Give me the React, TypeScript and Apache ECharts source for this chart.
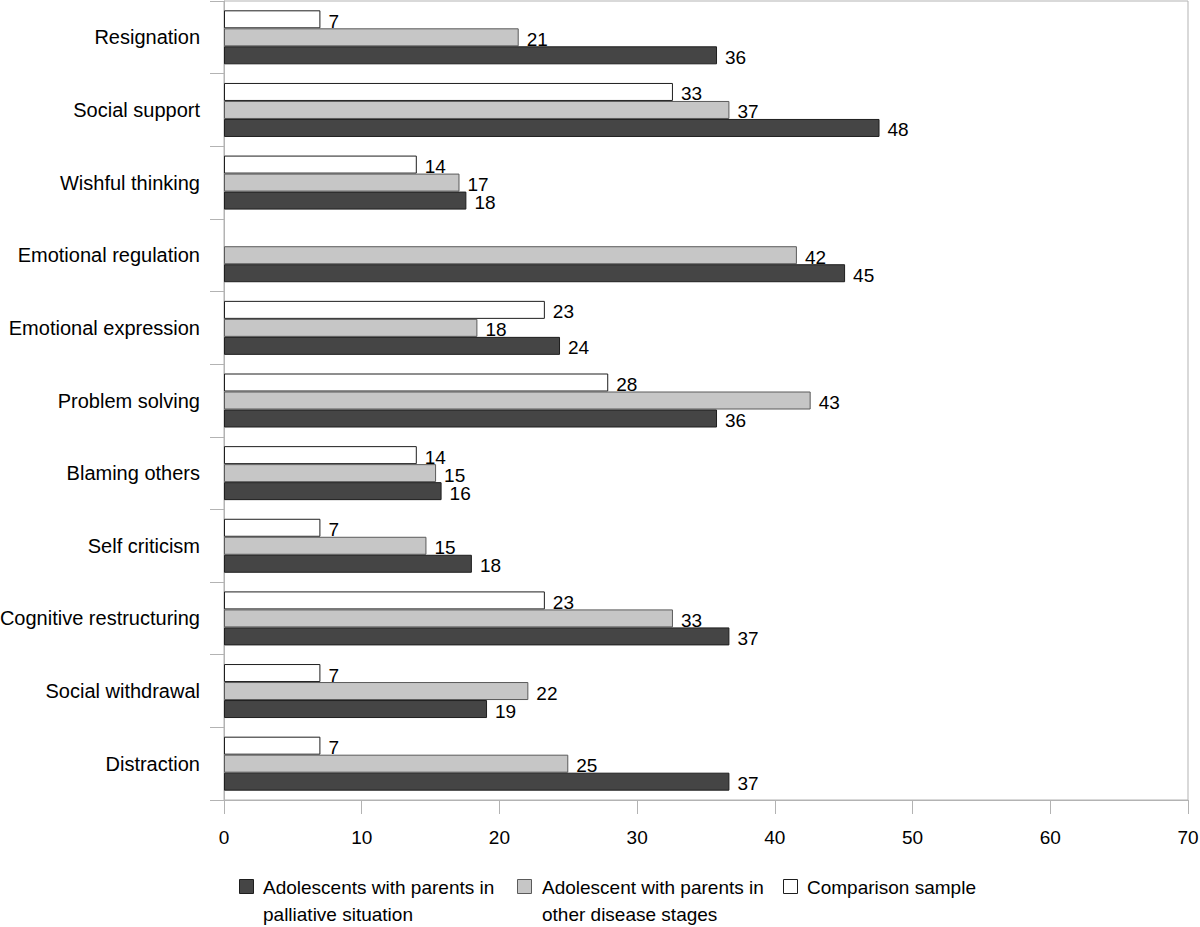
import React, { useEffect, useRef } from "react";
import * as echarts from "echarts";

const categories = [
  "Resignation",
  "Social support",
  "Wishful thinking",
  "Emotional regulation",
  "Emotional expression",
  "Problem solving",
  "Blaming others",
  "Self criticism",
  "Cognitive restructuring",
  "Social withdrawal",
  "Distraction",
];

const palliative = [35.8, 47.6, 17.6, 45.1, 24.4, 35.8, 15.8, 18.0, 36.7, 19.1, 36.7];
const otherStages = [21.4, 36.7, 17.1, 41.6, 18.4, 42.6, 15.4, 14.7, 32.6, 22.1, 25.0];
const comparison: (number | null)[] = [7.0, 32.6, 14.0, null, 23.3, 27.9, 14.0, 7.0, 23.3, 7.0, 7.0];

const xTicks = { min: 0, max: 70, interval: 10 };

const seriesNames = [
  "Adolescents with parents in palliative situation",
  "Adolescent with parents in other disease stages",
  "Comparison sample",
];
const legendLines = [
  ["Adolescents with parents in", "palliative situation"],
  ["Adolescent with parents in", "other disease stages"],
  ["Comparison sample"],
];

const FONT = "'Liberation Sans', Arial, sans-serif";
const fills = ["#454545", "#c6c6c6", "#ffffff"];
const borders = ["#1e1e1e", "#5a5a5a", "#1e1e1e"];

export default function App() {
  const ref = useRef<HTMLDivElement>(null);
  useEffect(() => {
    document.body.style.margin = "0";
    if (!ref.current) return;
    const chart = echarts.init(ref.current, null, { renderer: "svg" });
    const label = {
      show: true,
      position: "right" as const,
      distance: 8,
      offset: [0, 2],
      fontSize: 19,
      lineHeight: 17,
      color: "#000",
      fontFamily: FONT,
      formatter: (p: any) => (p.value == null ? "" : String(Math.round(p.value))),
    };
    const mk = (idx: number, data: (number | null)[]) => ({
      name: seriesNames[idx],
      type: "bar",
      data,
      barWidth: 18,
      barGap: "0%",
      itemStyle: { color: fills[idx], borderColor: borders[idx], borderWidth: 1 },
      label,
    });
    const legendX = [
      { rx: 239, tx: 263 },
      { rx: 517, tx: 542 },
      { rx: 783, tx: 807 },
    ];
    const graphic: any[] = [];
    legendX.forEach((p, i) => {
      graphic.push({
        type: "rect",
        left: p.rx,
        top: 879,
        shape: { width: 14, height: 14 },
        style: { fill: fills[i], stroke: borders[i], lineWidth: 1 },
      });
      graphic.push({
        type: "text",
        x: p.tx,
        y: 874,
        style: {
          text: legendLines[i].join("\n"),
          font: `19px ${FONT}`,
          fill: "#000",
          lineHeight: 27,
          verticalAlign: "top",
        },
      });
    });
    chart.setOption({
      animation: false,
      backgroundColor: "#fff",
      grid: {
        left: 224,
        right: 12,
        top: 1,
        bottom: 127,
        show: true,
        borderColor: "#b3b3b3",
        borderWidth: 1,
        containLabel: false,
        outerBoundsMode: "none",
      },
      xAxis: {
        type: "value",
        min: xTicks.min,
        max: xTicks.max,
        interval: xTicks.interval,
        axisLine: { show: true, lineStyle: { color: "#b3b3b3" } },
        axisTick: { show: true, length: 14, lineStyle: { color: "#b3b3b3" } },
        splitLine: { show: false },
        axisLabel: { fontSize: 19, color: "#000", fontFamily: FONT, margin: 28 },
      },
      yAxis: {
        type: "category",
        inverse: true,
        data: categories,
        axisLine: { show: true, lineStyle: { color: "#b3b3b3" } },
        axisTick: { show: true, length: 14, lineStyle: { color: "#b3b3b3" } },
        axisLabel: { fontSize: 20, color: "#000", fontFamily: FONT, margin: 24 },
      },
      series: [mk(2, comparison), mk(1, otherStages), mk(0, palliative)],
      graphic,
    });
    return () => chart.dispose();
  }, []);
  return <div ref={ref} style={{ width: 1200, height: 927 }} />;
}
